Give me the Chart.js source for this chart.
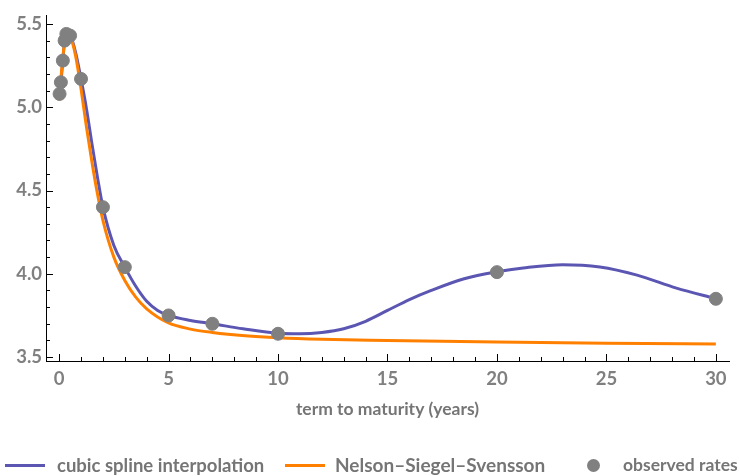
<!DOCTYPE html>
<html lang="en">
<head>
  <meta charset="utf-8">
  <title>Yield curve</title>
  <script src="https://cdn.jsdelivr.net/npm/chart.js@4"></script>
  <style>
    body { margin: 0; background: #fff; }
    #wrap { position: relative; width: 740px; height: 476px; }
    .leg { position: absolute; top: 454px; font: bold 18.5px Lato, sans-serif; color: #757575; white-space: nowrap; }
    .leg span { position: absolute; top: 0; line-height: 22px; }
    .leg i { position: absolute; display: block; }
  </style>
</head>
<body>
  <div id="wrap">
    <canvas id="graph" width="740" height="476"></canvas>
    <div class="leg">
      <i style="left:5px;top:10px;width:40px;height:3px;background:#5c56b3"></i>
      <span style="left:57px">cubic spline interpolation</span>
      <i style="left:285px;top:10px;width:40px;height:3px;background:#ff8000"></i>
      <span style="left:335px;font-size:19px">Nelson–Siegel–Svensson</span>
      <i style="left:587px;top:5px;width:13px;height:13px;border-radius:50%;background:#808080"></i>
      <span style="left:623px;font-size:17.5px">observed rates</span>
    </div>
  </div>
  <script>
    // observed points
    var maturities = [0.02, 0.08, 0.17, 0.25, 0.33, 0.5, 1, 2, 3, 5, 7, 10, 20, 30];
    var observedRates = [5.08, 5.15, 5.28, 5.40, 5.44, 5.43, 5.17, 4.40, 4.04, 3.75, 3.70, 3.64, 4.01, 3.85];

    // curves
    var splineX = [0.02, 0.08, 0.17, 0.25, 0.35, 0.5, 0.75, 1.0, 1.25, 1.5, 1.75, 2.0, 2.5, 3.0, 3.5, 4.0, 4.5, 5.0, 6, 7, 8.4, 10, 11, 12, 13, 14, 15, 16, 17, 18.5, 20, 21.2, 23, 24.7, 26.4, 28.2, 30];
    var splineY = [5.08, 5.15, 5.28, 5.40, 5.445, 5.435, 5.33, 5.17, 4.99, 4.78, 4.58, 4.40, 4.17, 4.04, 3.925, 3.835, 3.78, 3.75, 3.72, 3.70, 3.67, 3.643, 3.64, 3.648, 3.67, 3.715, 3.78, 3.845, 3.90, 3.97, 4.012, 4.035, 4.055, 4.041, 3.992, 3.914, 3.851];
    var nssX = [0, 0.08, 0.17, 0.25, 0.38, 0.5, 0.75, 1.0, 1.25, 1.5, 1.75, 2.0, 2.5, 3.0, 3.5, 4.0, 5.0, 6.0, 7.0, 8.5, 10, 12, 15, 20, 25, 30];
    var nssY = [5.04, 5.17, 5.30, 5.39, 5.445, 5.43, 5.31, 5.11, 4.88, 4.67, 4.48, 4.32, 4.10, 3.96, 3.86, 3.79, 3.705, 3.668, 3.648, 3.628, 3.616, 3.607, 3.600, 3.590, 3.583, 3.578];

    var xTicks = [0, 5, 10, 15, 20, 25, 30];
    var yTicks = [3.5, 4.0, 4.5, 5.0, 5.5];

    function pts(xs, ys) {
      var out = [];
      for (var i = 0; i < xs.length; i++) out.push({ x: xs[i], y: ys[i] });
      return out;
    }

    var tickFont = { family: 'Lato', size: 18.5, weight: 'bold' };
    var gray = '#808080';

    // inward tick marks like the original
    const tickMarks = {
      id: 'tickMarks',
      afterDraw(chart) {
        const ctx = chart.ctx, xs = chart.scales.x, ys = chart.scales.y;
        const area = chart.chartArea;
        ctx.save();
        ctx.strokeStyle = '#000';
        ctx.lineWidth = 1;
        ctx.beginPath();
        for (var v = 0; v <= 30; v++) {
          var px = Math.round(xs.getPixelForValue(v)) + 0.5;
          var len = (v % 5 == 0) ? 7 : 4;
          ctx.moveTo(px, area.bottom);
          ctx.lineTo(px, area.bottom - len);
        }
        for (var k = 35; k <= 55; k++) {
          var py = Math.round(ys.getPixelForValue(k / 10)) + 0.5;
          var l2 = (k % 5 == 0) ? 7 : 4;
          ctx.moveTo(area.left, py);
          ctx.lineTo(area.left + l2, py);
        }
        ctx.stroke();
        ctx.restore();
      }
    };

    new Chart(document.getElementById('graph'), {
      type: 'scatter',
      data: {
        datasets: [{
          label: 'observed rates',
          data: pts(maturities, observedRates),
          backgroundColor: gray,
          borderColor: gray,
          pointRadius: 6.5,
          order: 0
        }, {
          label: 'Nelson–Siegel–Svensson',
          data: pts(nssX, nssY),
          showLine: true,
          borderColor: '#ff8000',
          borderWidth: 3,
          pointRadius: 0,
          cubicInterpolationMode: 'monotone',
          order: 1
        }, {
          label: 'cubic spline interpolation',
          data: pts(splineX, splineY),
          showLine: true,
          borderColor: '#5c56b3',
          borderWidth: 3,
          pointRadius: 0,
          cubicInterpolationMode: 'monotone',
          order: 2
        }]
      },
      options: {
        responsive: false,
        animation: false,
        layout: { padding: { top: 7, right: 11, left: 0, bottom: 0 } },
        plugins: { legend: { display: false }, tooltip: { enabled: false } },
        scales: {
          x: {
            type: 'linear',
            min: -0.6,
            max: 30.6,
            afterBuildTicks: s => { s.ticks = xTicks.map(v => ({ value: v })); },
            afterFit: s => { s.height = 115; },
            grid: { display: false, drawTicks: false },
            border: { display: true, color: '#000', width: 1 },
            ticks: { font: tickFont, color: gray, padding: 7, maxRotation: 0 },
            title: {
              display: true,
              text: 'term to maturity (years)',
              font: { family: 'Lato', size: 17.5, weight: 'bold' },
              color: '#757575',
              padding: { bottom: 56 }
            }
          },
          y: {
            min: 3.4765,
            max: 5.553,
            afterBuildTicks: s => { s.ticks = yTicks.map(v => ({ value: v })); },
            afterFit: s => { s.width = 46; },
            grid: { display: false, drawTicks: false },
            border: { display: true, color: '#000', width: 1 },
            ticks: { font: tickFont, color: gray, padding: 4, callback: v => v.toFixed(1) }
          }
        }
      },
      plugins: [tickMarks]
    });
  </script>
</body>
</html>
